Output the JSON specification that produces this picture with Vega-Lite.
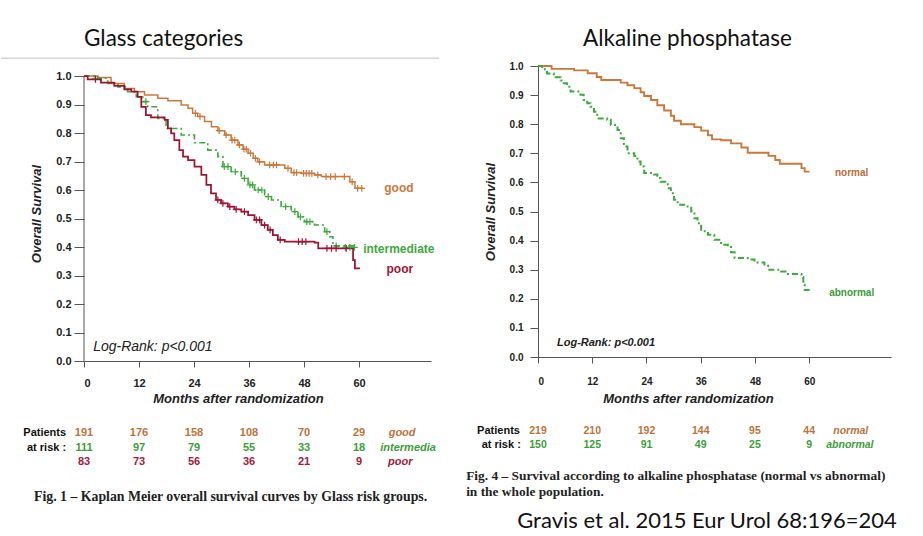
{
  "$schema": "https://vega.github.io/schema/vega-lite/v6.json",
  "background": "white",
  "padding": {"left": 0, "top": 27, "right": 5, "bottom": 0},
  "bounds": "full",
  "spacing": 25,
  "config": {"view": {"stroke": null}, "font": "Liberation Sans"},
  "datasets": {
    "one": [{}],
    "glass": [
      {"group": "good", "month": 0, "surv": 1.0}, {"group": "good", "month": 3.0, "surv": 0.995}, {"group": "good", "month": 5.9, "surv": 0.974}, {"group": "good", "month": 8.8, "surv": 0.956}, {"group": "good", "month": 11.0, "surv": 0.945}, {"group": "good", "month": 13.2, "surv": 0.933}, {"group": "good", "month": 16.1, "surv": 0.922}, {"group": "good", "month": 18.3, "surv": 0.913}, {"group": "good", "month": 21.2, "surv": 0.898}, {"group": "good", "month": 22.7, "surv": 0.887}, {"group": "good", "month": 23.7, "surv": 0.869}, {"group": "good", "month": 24.8, "surv": 0.858}, {"group": "good", "month": 26.3, "surv": 0.84}, {"group": "good", "month": 27.8, "surv": 0.822}, {"group": "good", "month": 29.2, "surv": 0.808}, {"group": "good", "month": 30.7, "surv": 0.793}, {"group": "good", "month": 32.1, "surv": 0.775}, {"group": "good", "month": 33.6, "surv": 0.758}, {"group": "good", "month": 34.7, "surv": 0.743}, {"group": "good", "month": 35.8, "surv": 0.729}, {"group": "good", "month": 36.9, "surv": 0.711}, {"group": "good", "month": 37.9, "surv": 0.699}, {"group": "good", "month": 39.4, "surv": 0.688}, {"group": "good", "month": 43.8, "surv": 0.676}, {"group": "good", "month": 45.2, "surv": 0.661}, {"group": "good", "month": 47.4, "surv": 0.658}, {"group": "good", "month": 50.3, "surv": 0.653}, {"group": "good", "month": 51.8, "surv": 0.647}, {"group": "good", "month": 58.0, "surv": 0.629}, {"group": "good", "month": 59.1, "surv": 0.606}, {"group": "good", "month": 60.9, "surv": 0.606},
      {"group": "intermediate", "month": 0, "surv": 1.0}, {"group": "intermediate", "month": 3.0, "surv": 0.992}, {"group": "intermediate", "month": 5.2, "surv": 0.974}, {"group": "intermediate", "month": 7.4, "surv": 0.962}, {"group": "intermediate", "month": 9.5, "surv": 0.945}, {"group": "intermediate", "month": 11.4, "surv": 0.927}, {"group": "intermediate", "month": 12.8, "surv": 0.91}, {"group": "intermediate", "month": 13.9, "surv": 0.892}, {"group": "intermediate", "month": 16.1, "surv": 0.851}, {"group": "intermediate", "month": 17.9, "surv": 0.816}, {"group": "intermediate", "month": 21.2, "surv": 0.793}, {"group": "intermediate", "month": 24.1, "surv": 0.766}, {"group": "intermediate", "month": 27.0, "surv": 0.74}, {"group": "intermediate", "month": 29.2, "surv": 0.717}, {"group": "intermediate", "month": 30.3, "surv": 0.682}, {"group": "intermediate", "month": 32.1, "surv": 0.664}, {"group": "intermediate", "month": 34.3, "surv": 0.641}, {"group": "intermediate", "month": 35.8, "surv": 0.618}, {"group": "intermediate", "month": 37.2, "surv": 0.6}, {"group": "intermediate", "month": 39.4, "surv": 0.577}, {"group": "intermediate", "month": 40.9, "surv": 0.565}, {"group": "intermediate", "month": 43.0, "surv": 0.542}, {"group": "intermediate", "month": 45.2, "surv": 0.524}, {"group": "intermediate", "month": 46.7, "surv": 0.506}, {"group": "intermediate", "month": 48.1, "surv": 0.489}, {"group": "intermediate", "month": 50.3, "surv": 0.477}, {"group": "intermediate", "month": 52.5, "surv": 0.454}, {"group": "intermediate", "month": 53.6, "surv": 0.436}, {"group": "intermediate", "month": 54.3, "surv": 0.404}, {"group": "intermediate", "month": 59.1, "surv": 0.399},
      {"group": "poor", "month": 0, "surv": 1.0}, {"group": "poor", "month": 0.8, "surv": 0.988}, {"group": "poor", "month": 3.7, "surv": 0.977}, {"group": "poor", "month": 6.6, "surv": 0.965}, {"group": "poor", "month": 8.8, "surv": 0.953}, {"group": "poor", "month": 10.3, "surv": 0.945}, {"group": "poor", "month": 11.7, "surv": 0.927}, {"group": "poor", "month": 12.5, "surv": 0.892}, {"group": "poor", "month": 13.5, "surv": 0.863}, {"group": "poor", "month": 14.6, "surv": 0.855}, {"group": "poor", "month": 17.6, "surv": 0.846}, {"group": "poor", "month": 18.3, "surv": 0.816}, {"group": "poor", "month": 19.0, "surv": 0.799}, {"group": "poor", "month": 19.7, "surv": 0.775}, {"group": "poor", "month": 20.8, "surv": 0.74}, {"group": "poor", "month": 21.6, "surv": 0.717}, {"group": "poor", "month": 22.7, "surv": 0.705}, {"group": "poor", "month": 24.1, "surv": 0.682}, {"group": "poor", "month": 25.6, "surv": 0.653}, {"group": "poor", "month": 26.7, "surv": 0.618}, {"group": "poor", "month": 27.7, "surv": 0.588}, {"group": "poor", "month": 28.8, "surv": 0.565}, {"group": "poor", "month": 29.9, "surv": 0.553}, {"group": "poor", "month": 31.4, "surv": 0.542}, {"group": "poor", "month": 32.8, "surv": 0.532}, {"group": "poor", "month": 34.3, "surv": 0.524}, {"group": "poor", "month": 35.8, "surv": 0.512}, {"group": "poor", "month": 37.2, "surv": 0.495}, {"group": "poor", "month": 38.7, "surv": 0.477}, {"group": "poor", "month": 40.1, "surv": 0.46}, {"group": "poor", "month": 41.2, "surv": 0.442}, {"group": "poor", "month": 42.3, "surv": 0.425}, {"group": "poor", "month": 43.8, "surv": 0.419}, {"group": "poor", "month": 50.3, "surv": 0.415}, {"group": "poor", "month": 51.1, "surv": 0.395}, {"group": "poor", "month": 58.3, "surv": 0.395}, {"group": "poor", "month": 58.7, "surv": 0.354}, {"group": "poor", "month": 59.1, "surv": 0.325}, {"group": "poor", "month": 60.2, "surv": 0.325}
    ],
    "glassCens": [
      {"group": "good", "month": 24.3, "surv": 0.869}, {"group": "good", "month": 25.3, "surv": 0.858}, {"group": "good", "month": 29.5, "surv": 0.808}, {"group": "good", "month": 31.0, "surv": 0.793}, {"group": "good", "month": 32.3, "surv": 0.775}, {"group": "good", "month": 32.9, "surv": 0.775}, {"group": "good", "month": 33.9, "surv": 0.758}, {"group": "good", "month": 34.9, "surv": 0.743}, {"group": "good", "month": 35.4, "surv": 0.743}, {"group": "good", "month": 36.3, "surv": 0.729}, {"group": "good", "month": 37.4, "surv": 0.711}, {"group": "good", "month": 38.3, "surv": 0.699}, {"group": "good", "month": 40.5, "surv": 0.688}, {"group": "good", "month": 41.3, "surv": 0.688}, {"group": "good", "month": 42.0, "surv": 0.688}, {"group": "good", "month": 44.5, "surv": 0.676}, {"group": "good", "month": 45.8, "surv": 0.661}, {"group": "good", "month": 46.4, "surv": 0.661}, {"group": "good", "month": 47.9, "surv": 0.658}, {"group": "good", "month": 48.5, "surv": 0.658}, {"group": "good", "month": 49.1, "surv": 0.658}, {"group": "good", "month": 49.7, "surv": 0.658}, {"group": "good", "month": 51.0, "surv": 0.653}, {"group": "good", "month": 52.8, "surv": 0.647}, {"group": "good", "month": 53.8, "surv": 0.647}, {"group": "good", "month": 54.8, "surv": 0.647}, {"group": "good", "month": 56.8, "surv": 0.647}, {"group": "good", "month": 58.5, "surv": 0.629}, {"group": "good", "month": 59.7, "surv": 0.606}, {"group": "good", "month": 60.6, "surv": 0.606},
      {"group": "intermediate", "month": 2.5, "surv": 0.992}, {"group": "intermediate", "month": 13.5, "surv": 0.91}, {"group": "intermediate", "month": 30.6, "surv": 0.682}, {"group": "intermediate", "month": 31.4, "surv": 0.682}, {"group": "intermediate", "month": 33.0, "surv": 0.664}, {"group": "intermediate", "month": 35.0, "surv": 0.641}, {"group": "intermediate", "month": 36.2, "surv": 0.618}, {"group": "intermediate", "month": 36.8, "surv": 0.618}, {"group": "intermediate", "month": 38.0, "surv": 0.6}, {"group": "intermediate", "month": 38.8, "surv": 0.6}, {"group": "intermediate", "month": 40.2, "surv": 0.577}, {"group": "intermediate", "month": 44.0, "surv": 0.542}, {"group": "intermediate", "month": 46.0, "surv": 0.524}, {"group": "intermediate", "month": 47.2, "surv": 0.506}, {"group": "intermediate", "month": 48.6, "surv": 0.489}, {"group": "intermediate", "month": 49.3, "surv": 0.489}, {"group": "intermediate", "month": 53.0, "surv": 0.454}, {"group": "intermediate", "month": 55.0, "surv": 0.404}, {"group": "intermediate", "month": 57.0, "surv": 0.399}, {"group": "intermediate", "month": 58.0, "surv": 0.399}, {"group": "intermediate", "month": 59.0, "surv": 0.399},
      {"group": "poor", "month": 2.5, "surv": 0.988}, {"group": "poor", "month": 29.2, "surv": 0.565}, {"group": "poor", "month": 30.3, "surv": 0.553}, {"group": "poor", "month": 31.8, "surv": 0.542}, {"group": "poor", "month": 33.2, "surv": 0.532}, {"group": "poor", "month": 35.0, "surv": 0.524}, {"group": "poor", "month": 37.6, "surv": 0.495}, {"group": "poor", "month": 38.3, "surv": 0.495}, {"group": "poor", "month": 39.4, "surv": 0.477}, {"group": "poor", "month": 40.6, "surv": 0.46}, {"group": "poor", "month": 42.8, "surv": 0.425}, {"group": "poor", "month": 46.8, "surv": 0.419}, {"group": "poor", "month": 47.6, "surv": 0.419}, {"group": "poor", "month": 48.4, "surv": 0.419}, {"group": "poor", "month": 53.0, "surv": 0.395}, {"group": "poor", "month": 54.0, "surv": 0.395}, {"group": "poor", "month": 55.0, "surv": 0.395}, {"group": "poor", "month": 57.2, "surv": 0.395}
    ],
    "alp": [
      {"group": "normal", "month": 0, "surv": 1.0}, {"group": "normal", "month": 3.0, "surv": 0.99}, {"group": "normal", "month": 8.0, "surv": 0.985}, {"group": "normal", "month": 11.0, "surv": 0.975}, {"group": "normal", "month": 13.0, "surv": 0.962}, {"group": "normal", "month": 14.0, "surv": 0.952}, {"group": "normal", "month": 18.3, "surv": 0.943}, {"group": "normal", "month": 19.8, "surv": 0.934}, {"group": "normal", "month": 21.3, "surv": 0.924}, {"group": "normal", "month": 22.7, "surv": 0.91}, {"group": "normal", "month": 23.5, "surv": 0.897}, {"group": "normal", "month": 25.0, "surv": 0.883}, {"group": "normal", "month": 26.4, "surv": 0.865}, {"group": "normal", "month": 27.9, "surv": 0.847}, {"group": "normal", "month": 29.4, "surv": 0.829}, {"group": "normal", "month": 30.1, "surv": 0.812}, {"group": "normal", "month": 31.6, "surv": 0.8}, {"group": "normal", "month": 34.6, "surv": 0.79}, {"group": "normal", "month": 36.1, "surv": 0.778}, {"group": "normal", "month": 37.6, "surv": 0.762}, {"group": "normal", "month": 38.5, "surv": 0.748}, {"group": "normal", "month": 40.5, "surv": 0.745}, {"group": "normal", "month": 42.7, "surv": 0.734}, {"group": "normal", "month": 45.0, "surv": 0.72}, {"group": "normal", "month": 46.4, "surv": 0.702}, {"group": "normal", "month": 51.0, "surv": 0.691}, {"group": "normal", "month": 52.5, "surv": 0.677}, {"group": "normal", "month": 53.5, "surv": 0.664}, {"group": "normal", "month": 58.3, "surv": 0.649}, {"group": "normal", "month": 59.0, "surv": 0.637}, {"group": "normal", "month": 60.1, "surv": 0.637},
      {"group": "abnormal", "month": 0, "surv": 1.0}, {"group": "abnormal", "month": 0.9, "surv": 0.989}, {"group": "abnormal", "month": 2.0, "surv": 0.974}, {"group": "abnormal", "month": 3.5, "surv": 0.961}, {"group": "abnormal", "month": 5.0, "surv": 0.95}, {"group": "abnormal", "month": 5.7, "surv": 0.941}, {"group": "abnormal", "month": 6.4, "surv": 0.929}, {"group": "abnormal", "month": 7.2, "surv": 0.912}, {"group": "abnormal", "month": 9.4, "surv": 0.901}, {"group": "abnormal", "month": 10.1, "surv": 0.883}, {"group": "abnormal", "month": 10.9, "surv": 0.872}, {"group": "abnormal", "month": 11.6, "surv": 0.86}, {"group": "abnormal", "month": 12.4, "surv": 0.843}, {"group": "abnormal", "month": 13.1, "surv": 0.82}, {"group": "abnormal", "month": 15.3, "surv": 0.815}, {"group": "abnormal", "month": 16.1, "surv": 0.797}, {"group": "abnormal", "month": 17.6, "surv": 0.78}, {"group": "abnormal", "month": 18.3, "surv": 0.752}, {"group": "abnormal", "month": 19.0, "surv": 0.723}, {"group": "abnormal", "month": 19.8, "surv": 0.7}, {"group": "abnormal", "month": 21.3, "surv": 0.691}, {"group": "abnormal", "month": 22.0, "surv": 0.672}, {"group": "abnormal", "month": 22.7, "surv": 0.655}, {"group": "abnormal", "month": 23.5, "surv": 0.632}, {"group": "abnormal", "month": 25.7, "surv": 0.627}, {"group": "abnormal", "month": 26.4, "surv": 0.615}, {"group": "abnormal", "month": 27.1, "surv": 0.602}, {"group": "abnormal", "month": 28.7, "surv": 0.58}, {"group": "abnormal", "month": 29.4, "surv": 0.563}, {"group": "abnormal", "month": 30.1, "surv": 0.54}, {"group": "abnormal", "month": 30.9, "surv": 0.523}, {"group": "abnormal", "month": 33.1, "surv": 0.517}, {"group": "abnormal", "month": 33.9, "surv": 0.5}, {"group": "abnormal", "month": 34.6, "surv": 0.477}, {"group": "abnormal", "month": 35.3, "surv": 0.46}, {"group": "abnormal", "month": 36.1, "surv": 0.432}, {"group": "abnormal", "month": 37.6, "surv": 0.42}, {"group": "abnormal", "month": 39.0, "surv": 0.403}, {"group": "abnormal", "month": 40.5, "surv": 0.386}, {"group": "abnormal", "month": 42.0, "surv": 0.378}, {"group": "abnormal", "month": 42.7, "surv": 0.36}, {"group": "abnormal", "month": 43.5, "surv": 0.34}, {"group": "abnormal", "month": 46.4, "surv": 0.335}, {"group": "abnormal", "month": 47.9, "surv": 0.325}, {"group": "abnormal", "month": 50.1, "surv": 0.314}, {"group": "abnormal", "month": 50.9, "surv": 0.3}, {"group": "abnormal", "month": 53.8, "surv": 0.294}, {"group": "abnormal", "month": 55.3, "surv": 0.285}, {"group": "abnormal", "month": 58.3, "surv": 0.275}, {"group": "abnormal", "month": 58.7, "surv": 0.248}, {"group": "abnormal", "month": 59.0, "surv": 0.23}, {"group": "abnormal", "month": 60.1, "surv": 0.23}
    ],
    "riskGlass": [
      {"group": "good", "month": 0, "n": 191}, {"group": "good", "month": 12, "n": 176}, {"group": "good", "month": 24, "n": 158}, {"group": "good", "month": 36, "n": 108}, {"group": "good", "month": 48, "n": 70}, {"group": "good", "month": 60, "n": 29},
      {"group": "intermediate", "month": 0, "n": 111}, {"group": "intermediate", "month": 12, "n": 97}, {"group": "intermediate", "month": 24, "n": 79}, {"group": "intermediate", "month": 36, "n": 55}, {"group": "intermediate", "month": 48, "n": 33}, {"group": "intermediate", "month": 60, "n": 18},
      {"group": "poor", "month": 0, "n": 83}, {"group": "poor", "month": 12, "n": 73}, {"group": "poor", "month": 24, "n": 56}, {"group": "poor", "month": 36, "n": 36}, {"group": "poor", "month": 48, "n": 21}, {"group": "poor", "month": 60, "n": 9}
    ],
    "riskAlp": [
      {"group": "normal", "month": 0, "n": 219}, {"group": "normal", "month": 12, "n": 210}, {"group": "normal", "month": 24, "n": 192}, {"group": "normal", "month": 36, "n": 144}, {"group": "normal", "month": 48, "n": 95}, {"group": "normal", "month": 60, "n": 44},
      {"group": "abnormal", "month": 0, "n": 150}, {"group": "abnormal", "month": 12, "n": 125}, {"group": "abnormal", "month": 24, "n": 91}, {"group": "abnormal", "month": 36, "n": 49}, {"group": "abnormal", "month": 48, "n": 25}, {"group": "abnormal", "month": 60, "n": 9}
    ]
  },
  "hconcat": [
    {
      "width": 347,
      "height": 295,
      "title": {"text": "Glass categories", "anchor": "start", "frame": "group", "font": "Lato", "fontSize": 22.5, "fontWeight": "normal", "color": "#111111", "offset": 7},
      "layer": [
        {
          "data": {"name": "glass"},
          "mark": {"type": "line", "interpolate": "step-after"},
          "encoding": {
            "x": {"field": "month", "type": "quantitative", "scale": {"domain": [0, 75.7], "nice": false, "zero": false},
              "axis": {"values": [0, 12, 24, 36, 48, 60], "title": "Months after randomization", "titleX": 154, "titleFont": "Liberation Sans", "titleFontSize": 13, "titleFontStyle": "italic", "titleFontWeight": "bold", "titleColor": "#222222", "titlePadding": 4, "labelFont": "Liberation Sans", "labelFontSize": 11, "labelFontWeight": "bold", "labelColor": "#222222", "labelPadding": 10, "tickSize": 6, "domainColor": "#555555", "tickColor": "#555555", "grid": false}},
            "y": {"field": "surv", "type": "quantitative", "scale": {"domain": [0, 1.0351], "nice": false, "zero": false},
              "axis": {"values": [0, 0.1, 0.2, 0.3, 0.4, 0.5, 0.6, 0.7, 0.8, 0.9, 1.0], "tickCount": 11, "labelOverlap": false, "format": ".1f", "title": "Overall Survival", "titleFont": "Liberation Sans", "titleFontSize": 13, "titleFontStyle": "italic", "titleFontWeight": "bold", "titleColor": "#222222", "titlePadding": 12, "labelFont": "Liberation Sans", "labelFontSize": 11, "labelFontWeight": "bold", "labelColor": "#222222", "labelPadding": 3, "tickSize": 10, "domain": false, "tickColor": "#555555", "grid": false}},
            "color": {"field": "group", "type": "nominal", "scale": {"domain": ["good", "intermediate", "poor"], "range": ["#c8783c", "#3fa83f", "#9c1434"]}, "legend": null},
            "strokeDash": {"field": "group", "type": "nominal", "scale": {"domain": ["good", "intermediate", "poor"], "range": [[1, 0], [6, 3, 2, 3], [1, 0]]}, "legend": null},
            "size": {"field": "group", "type": "ordinal", "scale": {"domain": ["good", "intermediate", "poor"], "range": [1.5, 2, 2.5]}, "legend": null}
          }
        },
        {
          "data": {"name": "glassCens"},
          "mark": {"type": "point", "shape": "M-1,0L1,0M0,-1L0,1", "filled": false, "size": 45, "strokeWidth": 1.2, "opacity": 1},
          "encoding": {
            "x": {"field": "month", "type": "quantitative"},
            "y": {"field": "surv", "type": "quantitative"},
            "color": {"field": "group", "type": "nominal", "legend": null}
          }
        },
        {
          "data": {"name": "one"},
          "mark": {"type": "rule", "color": "#555555", "strokeWidth": 1},
          "encoding": {"x": {"datum": 0, "type": "quantitative"}, "y": {"datum": 0, "type": "quantitative"}, "y2": {"datum": 1}}
        },
        {
          "data": {"name": "one"},
          "mark": {"type": "rule", "color": "#d6d6d6", "strokeWidth": 1.5},
          "encoding": {"x": {"datum": -18.1, "type": "quantitative"}, "x2": {"datum": 77.5}, "y": {"datum": 1.062, "type": "quantitative"}}
        },
        {
          "data": {"name": "one"},
          "mark": {"type": "text", "text": "Log-Rank: p<0.001", "align": "left", "baseline": "middle", "font": "Liberation Sans", "fontSize": 14, "fontStyle": "italic", "color": "#222222"},
          "encoding": {"x": {"datum": 2.0, "type": "quantitative"}, "y": {"datum": 0.049, "type": "quantitative"}}
        },
        {
          "data": {"name": "one"},
          "mark": {"type": "text", "text": "good", "align": "center", "baseline": "middle", "fontSize": 12, "fontWeight": "bold", "color": "#c8783c"},
          "encoding": {"x": {"datum": 68.7, "type": "quantitative"}, "y": {"datum": 0.607, "type": "quantitative"}}
        },
        {
          "data": {"name": "one"},
          "mark": {"type": "text", "text": "intermediate", "align": "left", "baseline": "middle", "fontSize": 12, "fontWeight": "bold", "color": "#3fa83f"},
          "encoding": {"x": {"datum": 60.9, "type": "quantitative"}, "y": {"datum": 0.393, "type": "quantitative"}}
        },
        {
          "data": {"name": "one"},
          "mark": {"type": "text", "text": "poor", "align": "center", "baseline": "middle", "fontSize": 12, "fontWeight": "bold", "color": "#9c1434"},
          "encoding": {"x": {"datum": 68.9, "type": "quantitative"}, "y": {"datum": 0.323, "type": "quantitative"}}
        },
        {
          "data": {"name": "one"},
          "mark": {"type": "text", "text": "Patients", "align": "right", "baseline": "middle", "font": "Liberation Sans Narrow, Liberation Sans", "fontSize": 11, "fontWeight": "bold", "color": "#111111"},
          "encoding": {"x": {"datum": -3.9, "type": "quantitative"}, "y": {"datum": -0.253, "type": "quantitative"}}
        },
        {
          "data": {"name": "one"},
          "mark": {"type": "text", "text": "at risk :", "align": "right", "baseline": "middle", "font": "Liberation Sans Narrow, Liberation Sans", "fontSize": 11, "fontWeight": "bold", "color": "#111111"},
          "encoding": {"x": {"datum": -3.9, "type": "quantitative"}, "y": {"datum": -0.305, "type": "quantitative"}}
        },
        {
          "data": {"name": "riskGlass"},
          "transform": [{"filter": "datum.group === 'good'"}],
          "mark": {"type": "text", "align": "center", "baseline": "middle", "font": "Liberation Sans Narrow, Liberation Sans", "fontSize": 11, "fontWeight": "bold", "color": "#b8743c"},
          "encoding": {"x": {"field": "month", "type": "quantitative"}, "y": {"datum": -0.253, "type": "quantitative"}, "text": {"field": "n"}}
        },
        {
          "data": {"name": "riskGlass"},
          "transform": [{"filter": "datum.group === 'intermediate'"}],
          "mark": {"type": "text", "align": "center", "baseline": "middle", "font": "Liberation Sans Narrow, Liberation Sans", "fontSize": 11, "fontWeight": "bold", "color": "#3d9c3d"},
          "encoding": {"x": {"field": "month", "type": "quantitative"}, "y": {"datum": -0.305, "type": "quantitative"}, "text": {"field": "n"}}
        },
        {
          "data": {"name": "riskGlass"},
          "transform": [{"filter": "datum.group === 'poor'"}],
          "mark": {"type": "text", "align": "center", "baseline": "middle", "font": "Liberation Sans Narrow, Liberation Sans", "fontSize": 11, "fontWeight": "bold", "color": "#a01a3a"},
          "encoding": {"x": {"field": "month", "type": "quantitative"}, "y": {"datum": -0.354, "type": "quantitative"}, "text": {"field": "n"}}
        },
        {
          "data": {"name": "one"},
          "mark": {"type": "text", "text": "good", "align": "center", "baseline": "middle", "font": "Liberation Sans Narrow, Liberation Sans", "fontSize": 11, "fontWeight": "bold", "fontStyle": "italic", "color": "#b8743c"},
          "encoding": {"x": {"datum": 69.4, "type": "quantitative"}, "y": {"datum": -0.253, "type": "quantitative"}}
        },
        {
          "data": {"name": "one"},
          "mark": {"type": "text", "text": "intermedia", "align": "center", "baseline": "middle", "font": "Liberation Sans Narrow, Liberation Sans", "fontSize": 11, "fontWeight": "bold", "fontStyle": "italic", "color": "#3d9c3d"},
          "encoding": {"x": {"datum": 70.7, "type": "quantitative"}, "y": {"datum": -0.305, "type": "quantitative"}}
        },
        {
          "data": {"name": "one"},
          "mark": {"type": "text", "text": "poor", "align": "center", "baseline": "middle", "font": "Liberation Sans Narrow, Liberation Sans", "fontSize": 11, "fontWeight": "bold", "fontStyle": "italic", "color": "#a01a3a"},
          "encoding": {"x": {"datum": 69.0, "type": "quantitative"}, "y": {"datum": -0.354, "type": "quantitative"}}
        },
        {
          "data": {"name": "one"},
          "mark": {"type": "text", "text": "Fig. 1 – Kaplan Meier overall survival curves by Glass risk groups.", "align": "left", "baseline": "middle", "font": "Liberation Serif", "fontSize": 13.8, "fontWeight": "bold", "color": "#222222"},
          "encoding": {"x": {"datum": -10.9, "type": "quantitative"}, "y": {"datum": -0.477, "type": "quantitative"}}
        }
      ]
    },
    {
      "width": 353,
      "height": 291,
      "title": {"text": "Alkaline phosphatase", "anchor": "start", "frame": "group", "dx": 45, "font": "Lato", "fontSize": 22.5, "fontWeight": "normal", "color": "#111111", "offset": 11},
      "layer": [
        {
          "data": {"name": "alp"},
          "mark": {"type": "line", "interpolate": "step-after"},
          "encoding": {
            "x": {"field": "month", "type": "quantitative", "scale": {"domain": [0, 78.1], "nice": false, "zero": false},
              "axis": {"values": [0, 12, 24, 36, 48, 60], "title": "Months after randomization", "titleX": 150, "titleFont": "Liberation Sans", "titleFontSize": 13, "titleFontStyle": "italic", "titleFontWeight": "bold", "titleColor": "#222222", "titlePadding": 6, "labelFont": "Liberation Sans", "labelFontSize": 10, "labelFontWeight": "bold", "labelColor": "#222222", "labelPadding": 13, "tickSize": 6, "domainColor": "#555555", "tickColor": "#555555", "grid": false}},
            "y": {"field": "surv", "type": "quantitative", "scale": {"domain": [0, 1], "nice": false, "zero": false},
              "axis": {"values": [0, 0.1, 0.2, 0.3, 0.4, 0.5, 0.6, 0.7, 0.8, 0.9, 1.0], "tickCount": 11, "labelOverlap": false, "format": ".1f", "title": "Overall Survival", "titleFont": "Liberation Sans", "titleFontSize": 13, "titleFontStyle": "italic", "titleFontWeight": "bold", "titleColor": "#222222", "titlePadding": 12, "labelFont": "Liberation Sans", "labelFontSize": 10, "labelFontWeight": "bold", "labelColor": "#222222", "labelPadding": 7, "tickSize": 8, "domainColor": "#555555", "tickColor": "#555555", "grid": false}},
            "color": {"field": "group", "type": "nominal", "scale": {"domain": ["normal", "abnormal"], "range": ["#bb6b3a", "#3a9c3a"]}, "legend": null},
            "strokeDash": {"field": "group", "type": "nominal", "scale": {"domain": ["normal", "abnormal"], "range": [[1, 0], [7, 2]]}, "legend": null},
            "size": {"field": "group", "type": "ordinal", "scale": {"domain": ["normal", "abnormal"], "range": [1.5, 2.2]}, "legend": null}
          }
        },
        {
          "data": {"name": "one"},
          "mark": {"type": "text", "text": "Log-Rank: p<0.001", "align": "left", "baseline": "middle", "font": "Liberation Sans", "fontSize": 11, "fontWeight": "bold", "fontStyle": "italic", "color": "#222222"},
          "encoding": {"x": {"datum": 4.2, "type": "quantitative"}, "y": {"datum": 0.048, "type": "quantitative"}}
        },
        {
          "data": {"name": "one"},
          "mark": {"type": "text", "text": "normal", "align": "center", "baseline": "middle", "fontSize": 10, "fontWeight": "bold", "color": "#bb6b3a"},
          "encoding": {"x": {"datum": 69.4, "type": "quantitative"}, "y": {"datum": 0.632, "type": "quantitative"}}
        },
        {
          "data": {"name": "one"},
          "mark": {"type": "text", "text": "abnormal", "align": "center", "baseline": "middle", "fontSize": 10, "fontWeight": "bold", "color": "#3a9c3a"},
          "encoding": {"x": {"datum": 69.4, "type": "quantitative"}, "y": {"datum": 0.22, "type": "quantitative"}}
        },
        {
          "data": {"name": "one"},
          "mark": {"type": "text", "text": "Patients", "align": "right", "baseline": "middle", "font": "Liberation Sans", "fontSize": 11, "fontWeight": "bold", "color": "#111111"},
          "encoding": {"x": {"datum": -4.0, "type": "quantitative"}, "y": {"datum": -0.254, "type": "quantitative"}}
        },
        {
          "data": {"name": "one"},
          "mark": {"type": "text", "text": "at risk :", "align": "right", "baseline": "middle", "font": "Liberation Sans", "fontSize": 11, "fontWeight": "bold", "color": "#111111"},
          "encoding": {"x": {"datum": -3.8, "type": "quantitative"}, "y": {"datum": -0.302, "type": "quantitative"}}
        },
        {
          "data": {"name": "riskAlp"},
          "transform": [{"filter": "datum.group === 'normal'"}],
          "mark": {"type": "text", "align": "center", "baseline": "middle", "font": "Liberation Sans", "fontSize": 10.5, "fontWeight": "bold", "color": "#b8743c"},
          "encoding": {"x": {"field": "month", "type": "quantitative"}, "y": {"datum": -0.254, "type": "quantitative"}, "text": {"field": "n"}}
        },
        {
          "data": {"name": "riskAlp"},
          "transform": [{"filter": "datum.group === 'abnormal'"}],
          "mark": {"type": "text", "align": "center", "baseline": "middle", "font": "Liberation Sans", "fontSize": 10.5, "fontWeight": "bold", "color": "#3d9c3d"},
          "encoding": {"x": {"field": "month", "type": "quantitative"}, "y": {"datum": -0.302, "type": "quantitative"}, "text": {"field": "n"}}
        },
        {
          "data": {"name": "one"},
          "mark": {"type": "text", "text": "normal", "align": "center", "baseline": "middle", "font": "Liberation Sans", "fontSize": 10.5, "fontWeight": "bold", "fontStyle": "italic", "color": "#b8743c"},
          "encoding": {"x": {"datum": 69.2, "type": "quantitative"}, "y": {"datum": -0.254, "type": "quantitative"}}
        },
        {
          "data": {"name": "one"},
          "mark": {"type": "text", "text": "abnormal", "align": "center", "baseline": "middle", "font": "Liberation Sans", "fontSize": 10.5, "fontWeight": "bold", "fontStyle": "italic", "color": "#3d9c3d"},
          "encoding": {"x": {"datum": 69.0, "type": "quantitative"}, "y": {"datum": -0.302, "type": "quantitative"}}
        },
        {
          "data": {"name": "one"},
          "mark": {"type": "text", "text": "Fig. 4 – Survival according to alkaline phosphatase (normal vs abnormal)", "align": "left", "baseline": "middle", "font": "Liberation Serif", "fontSize": 13.4, "fontWeight": "bold", "color": "#222222"},
          "encoding": {"x": {"datum": -15.9, "type": "quantitative"}, "y": {"datum": -0.409, "type": "quantitative"}}
        },
        {
          "data": {"name": "one"},
          "mark": {"type": "text", "text": "in the whole population.", "align": "left", "baseline": "middle", "font": "Liberation Serif", "fontSize": 13.4, "fontWeight": "bold", "color": "#222222"},
          "encoding": {"x": {"datum": -15.9, "type": "quantitative"}, "y": {"datum": -0.464, "type": "quantitative"}}
        },
        {
          "data": {"name": "one"},
          "mark": {"type": "text", "text": "Gravis et al. 2015 Eur Urol 68:196=204", "align": "left", "baseline": "alphabetic", "font": "Lato", "fontSize": 22, "color": "#111111"},
          "encoding": {"x": {"datum": -4.6, "type": "quantitative"}, "y": {"datum": -0.588, "type": "quantitative"}}
        }
      ]
    }
  ]
}
